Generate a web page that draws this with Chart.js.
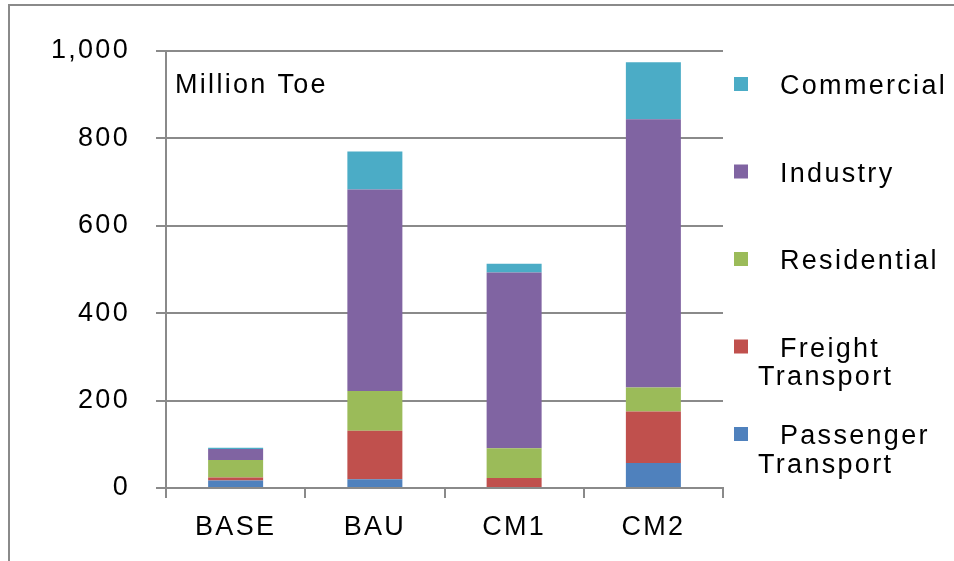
<!DOCTYPE html>
<html>
<head>
<meta charset="utf-8">
<script src="https://cdn.jsdelivr.net/npm/chart.js@4.4.0/dist/chart.umd.min.js"></script>
<style>
  html, body { margin: 0; padding: 0; background: #fff; overflow: hidden; }
  #wrap { position: relative; width: 954px; height: 561px; }
  #frame { position: absolute; left: 8px; top: 4px; width: 2000px; height: 2000px; border: 2px solid #8a8a8a; }
  #chart { position: absolute; left: 0; top: 0; }
</style>
</head>
<body>
<div id="wrap">
  <div id="frame"></div>
  <canvas id="chart" width="954" height="561"></canvas>
</div>
<script>
  const CATEGORIES  = ['BASE', 'BAU', 'CM1', 'CM2'];
  const UNIT_LABEL  = 'Million Toe';

  // stacked bottom to top
  const PASSENGER   = [17, 20, 0, 57];
  const FREIGHT     = [7, 111, 23, 118];
  const RESIDENTIAL = [40, 91, 68, 55];
  const INDUSTRY    = [25, 461, 402, 614];
  const COMMERCIAL  = [3, 87, 20, 130];

  const Y_TICKS = [0, 200, 400, 600, 800, 1000];

  const AXIS_GRAY = '#8a8a8a';
  const FONT = '"Liberation Sans", Arial, sans-serif';
  const SPACING = '2.3px';

  /* -------- Extras: letter spacing, unit label, legend -------- */

  const extrasPlugin = {
    id: 'extras',
    beforeDraw(chart) {
      chart.ctx.letterSpacing = SPACING;
    },
    afterDraw(chart) {
      const ctx = chart.ctx;
      ctx.save();
      ctx.letterSpacing = SPACING;
      ctx.font = `27px ${FONT}`;
      ctx.textBaseline = 'alphabetic';
      ctx.textAlign = 'left';
      ctx.fillStyle = '#000';
      ctx.fillText(UNIT_LABEL, 175, 93);

      const sets = chart.data.datasets.slice().reverse();
      sets.forEach((ds, i) => {
        const base = 94 + i * 87.5;
        ctx.fillStyle = ds.backgroundColor;
        ctx.fillRect(734, base - 17, 14, 14);
        ctx.fillStyle = '#000';
        const words = ds.label.split(' ');
        ctx.fillText(words[0], 780, base);
        if (words.length > 1) ctx.fillText(words.slice(1).join(' '), 758, base + 28.5);
      });
      ctx.restore();
    },
  };

  const ctx = document.getElementById('chart').getContext('2d');
  new Chart(ctx, {
    type: 'bar',
    data: {
      labels: CATEGORIES,
      datasets: [
        { label: 'Passenger Transport', data: PASSENGER,   backgroundColor: '#4F81BD' },
        { label: 'Freight Transport',   data: FREIGHT,     backgroundColor: '#C0504D' },
        { label: 'Residential',         data: RESIDENTIAL, backgroundColor: '#9BBB59' },
        { label: 'Industry',            data: INDUSTRY,    backgroundColor: '#8064A2' },
        { label: 'Commercial',          data: COMMERCIAL,  backgroundColor: '#4BACC6' },
      ],
    },
    options: {
      responsive: false,
      animation: false,
      devicePixelRatio: 1,
      categoryPercentage: 1,
      barPercentage: 0.395,
      layout: { padding: { left: 0, top: 51, right: 231, bottom: 0 } },
      scales: {
        x: {
          stacked: true,
          afterFit: s => { s.height = 73; },
          grid: { offset: true, drawOnChartArea: false, drawTicks: true, tickLength: 10, color: AXIS_GRAY, lineWidth: 2 },
          border: { display: true, color: AXIS_GRAY, width: 2 },
          ticks: { font: { size: 27, family: FONT }, color: '#000', padding: 13 },
        },
        y: {
          stacked: true,
          min: 0,
          max: 1000,
          afterFit: s => { s.width = 166; },
          afterBuildTicks: s => { s.ticks = Y_TICKS.map(v => ({ value: v })); },
          grid: { color: AXIS_GRAY, lineWidth: 2, tickLength: 10 },
          border: { display: true, color: AXIS_GRAY, width: 2 },
          ticks: {
            font: { size: 27, family: FONT },
            color: '#000',
            padding: 26,
            callback: v => v.toLocaleString('en-US'),
          },
        },
      },
      plugins: {
        legend: { display: false },
        tooltip: { enabled: false },
      },
    },
    plugins: [extrasPlugin],
  });
</script>
</body>
</html>
